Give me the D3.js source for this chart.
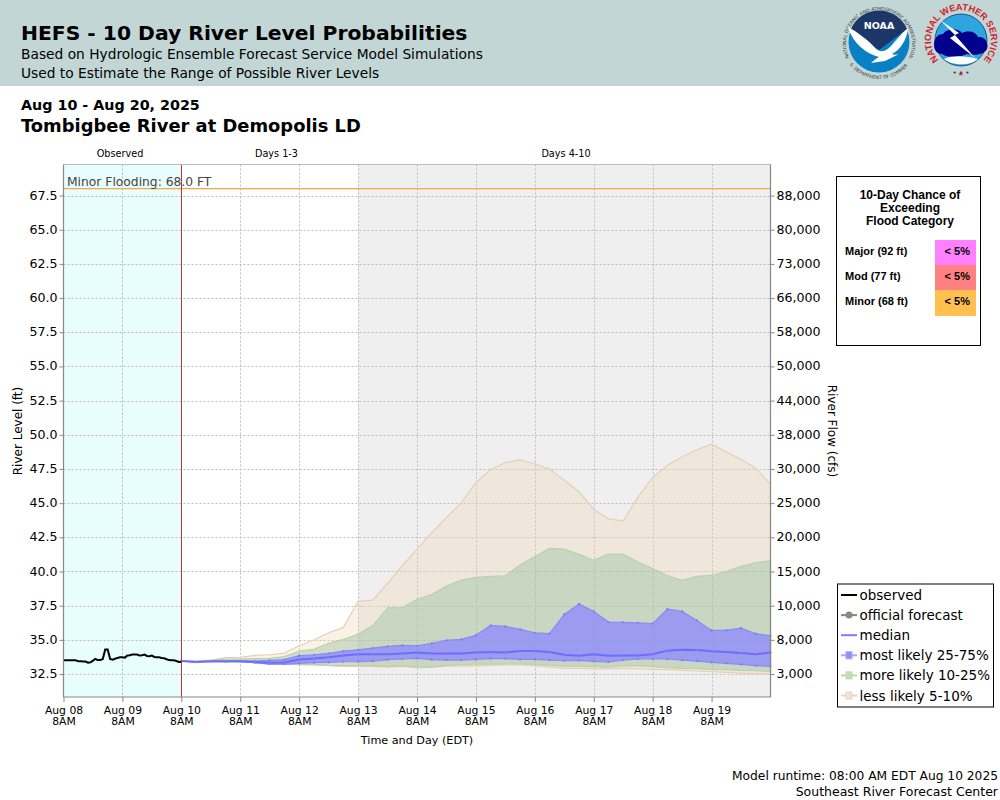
<!DOCTYPE html>
<html>
<head>
<meta charset="utf-8">
<script src="https://cdn.jsdelivr.net/npm/d3@7"></script>
<style>
html, body { margin: 0; padding: 0; background: #fff; }
svg { display: block; }
text { font-family: "DejaVu Sans", sans-serif; fill: #000; }
.box text { font-family: "Liberation Sans", sans-serif; font-weight: bold; }
</style>
</head>
<body>
<div id="chart"></div>
<script>
// values
const levelTicks = [32.5, 35, 37.5, 40, 42.5, 45, 47.5, 50, 52.5, 55, 57.5, 60, 62.5, 65, 67.5];
const flowLabels = ['3,000', '8,000', '10,000', '15,000', '20,000', '25,000', '30,000', '38,000', '44,000', '50,000', '58,000', '66,000', '73,000', '80,000', '88,000'];
const minorStage = 68;

// hourly, from Aug 08 8AM
const observed = [33.5, 33.5, 33.5, 33.5, 33.5, 33.5, 33.43, 33.43, 33.41, 33.41, 33.33, 33.36, 33.48, 33.6, 33.52, 33.52, 33.6, 34.3, 34.3, 33.6, 33.55, 33.62, 33.68, 33.72, 33.72, 33.7, 33.85, 33.87, 33.92, 33.92, 33.92, 33.85, 33.87, 33.92, 33.82, 33.8, 33.85, 33.75, 33.72, 33.72, 33.68, 33.65, 33.58, 33.52, 33.5, 33.5, 33.45, 33.38, 33.38];

// 6-hourly, from Aug 10 8AM
const p95 = [33.45, 33.47, 33.52, 33.7, 33.72, 33.86, 33.91, 34.03, 34.57, 34.99, 35.52, 35.91, 37.81, 37.91, 39.13, 40.42, 41.64, 42.83, 43.95, 45.02, 46.51, 47.46, 47.97, 48.17, 47.88, 47.49, 46.68, 45.83, 44.54, 43.85, 43.71, 45.44, 46.88, 47.78, 48.39, 48.9, 49.31, 48.75, 48.19, 47.56, 46.39];
const p90 = [33.45, 33.45, 33.5, 33.6, 33.6, 33.62, 33.65, 33.77, 34.18, 34.3, 34.74, 35.03, 35.42, 36.03, 37.35, 37.35, 37.96, 38.32, 38.93, 39.37, 39.57, 39.64, 39.69, 40.47, 41.1, 41.69, 41.64, 41.25, 40.81, 41.27, 41.27, 40.69, 40.22, 39.71, 39.35, 39.64, 39.71, 40.0, 40.37, 40.66, 40.78];
const p75 = [33.45, 33.38, 33.45, 33.45, 33.47, 33.45, 33.5, 33.55, 33.84, 33.91, 34.01, 34.18, 34.27, 34.4, 34.52, 34.6, 34.57, 34.74, 34.96, 35.03, 35.33, 36.06, 35.98, 35.77, 35.52, 35.45, 36.86, 37.62, 37.08, 36.3, 36.28, 36.25, 36.18, 37.25, 37.08, 36.42, 35.69, 35.69, 35.86, 35.45, 35.3];
const median = [33.45, 33.38, 33.43, 33.43, 33.43, 33.38, 33.33, 33.35, 33.57, 33.63, 33.72, 33.86, 33.94, 33.94, 33.94, 34.01, 34.08, 34.01, 34.01, 34.01, 34.08, 34.11, 34.08, 34.18, 34.18, 34.11, 33.91, 33.84, 33.94, 33.84, 33.86, 33.86, 33.94, 34.21, 34.28, 34.25, 34.16, 34.11, 34.04, 33.94, 34.08];
const p25 = [33.45, 33.38, 33.43, 33.4, 33.4, 33.33, 33.23, 33.23, 33.28, 33.33, 33.35, 33.4, 33.41, 33.45, 33.55, 33.6, 33.65, 33.55, 33.52, 33.52, 33.57, 33.62, 33.62, 33.57, 33.57, 33.52, 33.47, 33.5, 33.43, 33.38, 33.52, 33.6, 33.6, 33.6, 33.52, 33.45, 33.35, 33.28, 33.21, 33.11, 33.06];
const p10 = [33.45, 33.38, 33.43, 33.4, 33.4, 33.33, 33.23, 33.2, 33.2, 33.2, 33.13, 33.11, 33.1, 33.1, 33.06, 33.1, 33.01, 33.01, 33.13, 33.18, 33.23, 33.23, 33.25, 33.25, 33.21, 33.13, 33.08, 33.06, 33.04, 33.0, 33.1, 33.1, 33.04, 32.96, 32.91, 32.89, 32.84, 32.82, 32.77, 32.75, 32.67];
const p5 = [33.45, 33.38, 33.43, 33.4, 33.4, 33.33, 33.23, 33.2, 33.18, 33.15, 33.11, 33.06, 33.05, 33.06, 33.01, 33.06, 32.96, 33.01, 33.08, 33.08, 33.08, 33.13, 33.16, 33.16, 33.1, 33.0, 32.91, 32.91, 32.87, 32.87, 32.91, 32.89, 32.84, 32.82, 32.77, 32.72, 32.67, 32.62, 32.57, 32.54, 32.5];

const floodRows = ['Major (92 ft)', 'Mod (77 ft)', 'Minor (68 ft)'];
const floodChance = ['< 5%', '< 5%', '< 5%'];
const floodColors = ['#ff80ff', '#ff8080', '#ffc050'];

const t0 = new Date(2025, 7, 8, 8);
const tNow = new Date(2025, 7, 10, 8);
const tDay4 = new Date(2025, 7, 13, 8);
const tEnd = new Date(2025, 7, 20, 8);
const dayTicks = d3.range(12).map(i => d3.timeHour.offset(t0, i * 24));

const width = 1000, height = 800;
const plot = {left: 63.5, right: 770.5, top: 164.5, bottom: 697};

const svg = d3.select('#chart').append('svg').attr('width', width).attr('height', height);

const x = d3.scaleTime().domain([t0, tEnd]).range([plot.left, plot.right]);
const y = d3.scaleLinear().domain([30.82, 69.77]).range([plot.bottom, plot.top]);

// header
svg.append('rect').attr('width', width).attr('height', 86).attr('fill', '#c2d7d5');
const heads = [
	['HEFS - 10 Day River Level Probabilities', 21, 40, 20.3, 'bold'],
	['Based on Hydrologic Ensemble Forecast Service Model Simulations', 21, 59, 13.77, 'normal'],
	['Used to Estimate the Range of Possible River Levels', 21, 78, 13.77, 'normal'],
	['Aug 10 - Aug 20, 2025', 21, 110, 14.3, 'bold'],
	['Tombigbee River at Demopolis LD', 21, 132, 17.9, 'bold']
];
svg.selectAll('.head').data(heads).enter().append('text').attr('class', 'head')
	.attr('x', d => d[1]).attr('y', d => d[2]).attr('font-size', d => d[3]).attr('font-weight', d => d[4])
	.text(d => d[0]);

// backgrounds
svg.append('rect').attr('x', x(t0)).attr('y', plot.top).attr('width', x(tNow) - x(t0)).attr('height', plot.bottom - plot.top).attr('fill', '#e8fdfd');
svg.append('rect').attr('x', x(tDay4)).attr('y', plot.top).attr('width', plot.right - x(tDay4)).attr('height', plot.bottom - plot.top).attr('fill', '#efefef');

// grid
const grid = svg.append('g').attr('stroke', '#bcbcbc').attr('stroke-dasharray', '2,2').attr('stroke-width', 1);
grid.selectAll('.h').data(levelTicks).enter().append('line')
	.attr('x1', plot.left).attr('x2', plot.right).attr('y1', d => Math.round(y(d)) + 0.5).attr('y2', d => Math.round(y(d)) + 0.5);
grid.selectAll('.v').data(dayTicks.slice(1)).enter().append('line')
	.attr('y1', plot.top).attr('y2', plot.bottom).attr('x1', d => Math.round(x(d)) + 0.5).attr('x2', d => Math.round(x(d)) + 0.5);

// bands
const fcstTimes = p95.map((d, i) => d3.timeHour.offset(tNow, i * 6));
function band(upper, lower, fill, edge) {
	const area = d3.area().x((d, i) => x(fcstTimes[i])).y0((d, i) => y(lower[i])).y1(d => y(d));
	svg.append('path').datum(upper).attr('d', area).attr('fill', fill).attr('stroke', edge).attr('stroke-width', 1.2);
}
band(p95, p5, 'rgba(239,209,175,0.3)', '#e6d0b6');
band(p90, p10, 'rgba(142,190,155,0.4)', '#b9d2a9');
band(p75, p25, 'rgba(140,135,255,0.75)', '#8a8af8');

const medianLine = d3.line().x((d, i) => x(fcstTimes[i])).y(d => y(d));
svg.append('path').datum(median).attr('d', medianLine).attr('fill', 'none').attr('stroke', '#6c6cff').attr('stroke-width', 2);

// small markers along the median and the inner band
[median, p75, p25].forEach(series => {
	svg.append('g').selectAll('circle').data(series).enter().append('circle')
		.attr('cx', (d, i) => x(fcstTimes[i])).attr('cy', d => y(d)).attr('r', 1.1).attr('fill', '#7c7cfa');
});

// observed
const obsLine = d3.line().x((d, i) => x(d3.timeHour.offset(t0, i))).y(d => y(d));
svg.append('path').datum(observed).attr('d', obsLine).attr('fill', 'none').attr('stroke', '#000').attr('stroke-width', 2);

// minor flood line
svg.append('line').attr('x1', plot.left).attr('x2', plot.right).attr('y1', y(minorStage)).attr('y2', y(minorStage))
	.attr('stroke', '#fba540').attr('stroke-width', 1.3);
svg.append('text').attr('x', 67).attr('y', 186).attr('font-size', 12.3).style('fill', '#444').text('Minor Flooding: 68.0 FT');

// now line
const nowX = Math.floor(x(tNow)) + 0.5;
svg.append('line').attr('x1', nowX).attr('x2', nowX).attr('y1', plot.top).attr('y2', plot.bottom)
	.attr('stroke', '#c8302c').attr('stroke-width', 1);

// frame
svg.append('path').attr('d', `M${plot.left},${plot.top}H${plot.right}`).attr('fill', 'none').attr('stroke', '#bbb');
svg.append('path').attr('d', `M${plot.left},${plot.top}V${plot.bottom}H${plot.right}V${plot.top}`)
	.attr('fill', 'none').attr('stroke', '#888').attr('stroke-width', 1.2);

// axes
const yLeft = d3.axisLeft(y).tickValues(levelTicks).tickSize(4).tickPadding(2).tickFormat(d3.format('.1f'));
const gl = svg.append('g').attr('transform', `translate(${plot.left},0)`).call(yLeft);
const yRight = d3.axisRight(y).tickValues(levelTicks).tickSize(4).tickPadding(2).tickFormat((d, i) => flowLabels[i]);
const gr = svg.append('g').attr('transform', `translate(${plot.right},0)`).call(yRight);
[gl, gr].forEach(g => {
	g.select('.domain').remove();
	g.selectAll('.tick line').attr('stroke', '#888');
	g.selectAll('text').attr('font-size', 12.6).attr('font-family', '"DejaVu Sans"').attr('dy', '0.28em');
});

const xAxis = d3.axisBottom(x).tickValues(dayTicks).tickSize(5).tickPadding(4).tickFormat(d3.timeFormat('%b %d'));
const gx = svg.append('g').attr('transform', `translate(0,${plot.bottom})`).call(xAxis);
gx.select('.domain').remove();
gx.selectAll('.tick line').attr('stroke', '#888');
gx.selectAll('text').attr('font-size', 10.8).attr('font-family', '"DejaVu Sans"');
gx.selectAll('.tick').append('text').attr('y', 28).attr('text-anchor', 'middle').attr('font-size', 10.8).attr('font-family', '"DejaVu Sans"')
	.style('fill', '#000').text('8AM');

// period labels
const periods = [['Observed', 120, 157], ['Days 1-3', 276.5, 157], ['Days 4-10', 566, 157]];
svg.selectAll('.period').data(periods).enter().append('text').attr('class', 'period')
	.attr('x', d => d[1]).attr('y', d => d[2]).attr('text-anchor', 'middle').attr('font-size', 9.7).text(d => d[0]);

// axis titles
svg.append('text').attr('transform', 'translate(22,431) rotate(-90)').attr('text-anchor', 'middle').attr('font-size', 12).text('River Level (ft)');
svg.append('text').attr('transform', 'translate(828,431) rotate(90)').attr('text-anchor', 'middle').attr('font-size', 12).text('River Flow (cfs)');
svg.append('text').attr('x', 417).attr('y', 744).attr('text-anchor', 'middle').attr('font-size', 11.2).text('Time and Day (EDT)');

// flood chance box
const box = svg.append('g').attr('class', 'box');
box.append('rect').attr('x', 836.5).attr('y', 176.5).attr('width', 144).attr('height', 169).attr('fill', '#fff').attr('stroke', '#000');
['10-Day Chance of', 'Exceeding', 'Flood Category'].forEach((t, i) => {
	box.append('text').attr('x', 910).attr('y', 199 + i * 13).attr('text-anchor', 'middle').attr('font-size', 12).text(t);
});
floodRows.forEach((t, i) => {
	box.append('rect').attr('x', 935).attr('y', 240 + i * 25).attr('width', 41).attr('height', i == 2 ? 26 : 25).attr('fill', floodColors[i]);
	box.append('text').attr('x', 845).attr('y', 255 + i * 25).attr('font-size', 11).text(t);
	box.append('text').attr('x', 970).attr('y', 255 + i * 25).attr('text-anchor', 'end').attr('font-size', 11).text(floodChance[i]);
});

// legend
const legendRows = [
	['observed', '#000', null, null],
	['official forecast', '#888', 'circle', '#888'],
	['median', '#7d7dff', null, null],
	['most likely 25-75%', '#a8a8fb', 'rect', '#8f8ffa'],
	['more likely 10-25%', '#bcd8ac', 'rect', '#c3deb6'],
	['less likely 5-10%', '#e9d5bf', 'rect', '#efe3d5']
];
const lg = svg.append('g');
lg.append('rect').attr('x', 837.5).attr('y', 584).attr('width', 156).attr('height', 123).attr('fill', '#fff').attr('stroke', '#000');
legendRows.forEach((r, i) => {
	const cy = 595 + i * 20.1;
	lg.append('line').attr('x1', 841).attr('x2', 857).attr('y1', cy).attr('y2', cy).attr('stroke', r[1]).attr('stroke-width', 2);
	if (r[2] == 'circle') lg.append('circle').attr('cx', 849).attr('cy', cy).attr('r', 3.5).attr('fill', r[3]);
	if (r[2] == 'rect') lg.append('rect').attr('x', 846).attr('y', cy - 3.5).attr('width', 6).attr('height', 7).attr('fill', r[3]).attr('stroke', r[1]);
	lg.append('text').attr('x', 859.5).attr('y', cy + 5).attr('font-size', 13.5).text(r[0]);
});

// footer
svg.append('text').attr('x', 998).attr('y', 780).attr('text-anchor', 'end').attr('font-size', 12.26).text('Model runtime: 08:00 AM EDT Aug 10 2025');
svg.append('text').attr('x', 998).attr('y', 796).attr('text-anchor', 'end').attr('font-size', 12.5).text('Southeast River Forecast Center');

// NOAA logo
const noaa = svg.append('g').attr('transform', 'translate(879,42)');
noaa.append('path').attr('id', 'noaaTop').attr('fill', 'none').attr('d', 'M-29,17A33,33 0 1 1 29,17');
noaa.append('path').attr('id', 'noaaBot').attr('fill', 'none').attr('d', 'M-29,23A37,37 0 0 0 29,23');
noaa.append('text').attr('font-size', 4.6).style('fill', '#333').append('textPath').attr('href', '#noaaTop').attr('startOffset', '50%').attr('text-anchor', 'middle')
	.text('NATIONAL OCEANIC AND ATMOSPHERIC ADMINISTRATION');
noaa.append('text').attr('font-size', 4.6).style('fill', '#333').append('textPath').attr('href', '#noaaBot').attr('startOffset', '50%').attr('text-anchor', 'middle')
	.text('U.S. DEPARTMENT OF COMMERCE');
noaa.append('circle').attr('r', 30.5).attr('fill', '#0a80c4');
noaa.append('path').attr('fill', '#1c3668').attr('d', 'M-28,-13A30.5,30.5 0 0 1 28,-13L0,8Z');
noaa.append('path').attr('fill', '#fff').attr('d', 'M-31,-15C-20,-9 -10,-1 -4,6C2,11 6,10 12,4C18,-3 24,-10 29,-14C28,-2 21,8 13,12C15,13 17,13 20,12L6,19L-8,21C-5,18 -2,16 0,15C-12,12 -26,2 -31,-15Z');
noaa.append('text').attr('text-anchor', 'middle').attr('y', -13).attr('font-size', 9.5).attr('font-weight', 'bold').style('fill', '#fff').text('NOAA');

// NWS logo
const nws = svg.append('g').attr('transform', 'translate(961,40)');
nws.append('path').attr('id', 'nwsTop').attr('fill', 'none').attr('d', 'M-16,25.5A30,30 0 1 1 16,25.5');
nws.append('text').attr('font-size', 9.2).attr('font-weight', 'bold').style('font-family', '"Liberation Sans"').style('fill', '#d3202c').append('textPath').attr('href', '#nwsTop').attr('startOffset', '50%').attr('text-anchor', 'middle')
	.text('NATIONAL WEATHER SERVICE');
nws.append('circle').attr('r', 26).attr('fill', '#2fa5e0').attr('stroke', '#14357e').attr('stroke-width', 0.8);
nws.append('path').attr('fill', '#00008c').attr('d', 'M-27,5C-27,-3 -22,-6 -18,-6C-14,-12 -3,-12 1,-7C8,-10 15,-8 17,-3C24,-4 28,3 26,9C22,16 12,15 6,14C-2,18 -14,18 -19,14C-24,14 -27,10 -27,5Z');
nws.append('path').attr('fill', '#fff').attr('d', 'M-17,19C-9,15 6,16 17,19C10,26 -9,26 -17,19Z');
nws.append('path').attr('fill', '#fff').attr('d', 'M-21,-20L-2,-7L-6,-5L14,18L-11,-2L-6,-5Z');
nws.append('text').attr('text-anchor', 'middle').attr('y', 35).attr('font-size', 7).style('fill', '#14357e').text('• • •');
nws.append('text').attr('text-anchor', 'middle').attr('y', 35.5).attr('font-size', 7).style('fill', '#d3202c').text('★');
</script>
</body>
</html>
